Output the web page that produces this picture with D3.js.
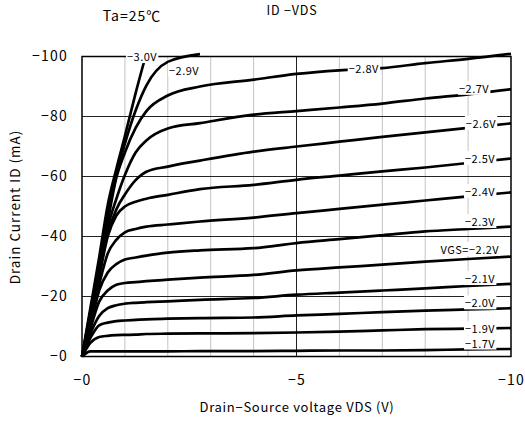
<!DOCTYPE html>
<html>
<head>
<meta charset="utf-8">
<script src="https://cdn.jsdelivr.net/npm/d3@7"></script>
<style>
  body { margin: 0; background: #fff; }
  svg text { font-family: "Noto Sans CJK JP", "Noto Sans", sans-serif; fill: #000; }
  .line { fill: none; stroke: #000; stroke-width: 2.7; stroke-linejoin: round; }
</style>
</head>
<body>
<div class="Line_chart"></div>
<script>
/* global d3 */

// VDS sample points (V), shared by every curve
var vds = [0, -0.2, -0.4, -0.6, -0.8, -1.0, -1.25, -1.5, -2.0, -2.75, -4, -5, -6, -7, -8, -9, -10];

// ID (mA), one array per VGS
var id17 = [0, -1.7, -1.7, -1.7, -1.7, -1.7, -1.7, -1.7, -1.7, -1.8, -1.8, -1.9, -2.0, -2.0, -2.1, -2.4, -2.5];
var id19 = [0, -4.6, -6.5, -6.9, -7.1, -7.2, -7.3, -7.5, -7.6, -7.7, -7.8, -8.0, -8.3, -8.7, -9.1, -9.3, -9.5];
var id20 = [0, -6.3, -10.4, -11.3, -11.8, -12.0, -12.2, -12.4, -12.6, -12.8, -13.0, -13.7, -14.2, -14.8, -15.3, -15.7, -16.1];
var id21 = [0, -7.8, -13.5, -16.1, -17.1, -17.6, -17.9, -18.1, -18.4, -18.9, -19.5, -20.6, -21.3, -22.0, -22.7, -23.5, -24.2];
var id22 = [0, -9.5, -18.3, -22.0, -23.9, -24.5, -24.8, -25.1, -25.6, -26.3, -27.2, -28.7, -29.7, -30.6, -31.6, -32.5, -33.3];
var id23 = [0, -10.5, -22.0, -28.0, -30.8, -32.3, -33.0, -33.6, -34.6, -35.4, -36.1, -37.8, -39.1, -40.4, -41.7, -42.5, -43.3];
var id24 = [0, -11.5, -24.0, -34.3, -38.9, -41.4, -42.5, -43.3, -44.0, -45.0, -46.3, -47.8, -49.2, -50.6, -52.0, -53.4, -54.7];
var id25 = [0, -12.5, -26.5, -40.0, -47.0, -50.0, -51.6, -52.6, -53.9, -55.8, -57.2, -58.9, -60.3, -61.7, -63.0, -64.5, -66.0];
var id26 = [0, -13.0, -27.5, -41.0, -49.0, -54.0, -58.8, -61.6, -63.3, -65.3, -68.3, -70.0, -71.6, -73.2, -74.7, -76.2, -77.7];
var id27 = [0, -13.5, -28.5, -43.0, -52.5, -60.5, -68.0, -72.0, -76.0, -77.8, -80.6, -81.8, -83.0, -84.3, -86.0, -87.4, -89.1];
var id28 = [0, -14.5, -29.5, -45.0, -59.5, -68.0, -76.2, -81.8, -87.0, -90.0, -92.3, -94.2, -95.4, -96.1, -97.8, -99.2, -100.9];
var id29 = [0, -15.5, -31.0, -47.5, -60.5, -71.0, -82.0, -90.3, -98.2, -100.8, null, null, null, null, null, null, null];
var id30 = [0, -16.5, -33.0, -50.5, -62.5, -73.5, -87.8, -101.0, null, null, null, null, null, null, null, null, null];

var curveValues = [id17, id19, id20, id21, id22, id23, id24, id25, id26, id27, id28, id29, id30];
var curveNames = ["\u22121.7V", "\u22121.9V", "\u22122.0V", "\u22122.1V", "VGS=\u22122.2V", "\u22122.3V", "\u22122.4V",
                  "\u22122.5V", "\u22122.6V", "\u22122.7V", "\u22122.8V", "\u22122.9V", "\u22123.0V"];

// tick values
var xTicks = [0, -5, -10];
var yTicks = [0, -20, -40, -60, -80, -100];
var xMinor = [-1, -2, -3, -4, -6, -7, -8, -9];

// where each curve's name sits, in axis units (VDS, ID)
var labelAt = [[-9.28, -4.3], [-9.28, -9.2], [-9.28, -17.7], [-9.28, -25.8], [-9.04, -35.5], [-9.28, -44.8],
               [-9.28, -54.8], [-9.28, -65.8], [-9.3, -77.5], [-9.14, -89.2], [-6.57, -95.8], [-2.38, -95.2], [-1.4, -99.8]];

var W = 525, H = 421;
var pLeft = 82, pRight = 511, pTop = 56.5, pBottom = 356.5;

var svg = d3.select("body").selectAll(".Line_chart").append("svg")
    .attr("width", W)
    .attr("height", H);

// set the ranges
var x = d3.scaleLinear().domain([0, -10]).range([pLeft, pRight]);
var y = d3.scaleLinear().domain([0, -100]).range([pBottom, pTop]);

// light vertical grid every volt
svg.append("g").selectAll("line").data(xMinor).enter().append("line")
    .attr("x1", function(d) { return x(d); })
    .attr("x2", function(d) { return x(d); })
    .attr("y1", pTop).attr("y2", pBottom)
    .attr("stroke", "#c4c4c4").attr("stroke-width", 1);

// dark grid on the major ticks
svg.append("g").selectAll("line").data(yTicks.slice(1, -1)).enter().append("line")
    .attr("x1", pLeft).attr("x2", pRight)
    .attr("y1", function(d) { return y(d); })
    .attr("y2", function(d) { return y(d); })
    .attr("stroke", "#222").attr("stroke-width", 1);
svg.append("line")
    .attr("x1", x(-5)).attr("x2", x(-5))
    .attr("y1", pTop).attr("y2", pBottom)
    .attr("stroke", "#222").attr("stroke-width", 1);

// frame
svg.append("rect")
    .attr("x", pLeft).attr("y", pTop)
    .attr("width", pRight - pLeft).attr("height", pBottom - pTop)
    .attr("fill", "none").attr("stroke", "#000").attr("stroke-width", 1.5);

// define the line
var valueline = d3.line()
    .defined(function(d) { return d[1] != null; })
    .x(function(d) { return x(d[0]); })
    .y(function(d) { return y(d[1]); })
    .curve(d3.curveMonotoneX);

curveValues.forEach(function(vals) {
  svg.append("path")
      .data([vds.map(function(v, i) { return [v, vals[i]]; })])
      .attr("class", "line")
      .attr("d", valueline);
});

// curve names on a white patch
curveNames.forEach(function(name, i) {
  var g = svg.append("g");
  var t = g.append("text")
      .attr("x", x(labelAt[i][0]))
      .attr("y", y(labelAt[i][1]))
      .attr("dy", "0.36em")
      .attr("text-anchor", "middle")
      .style("font-size", "11px")
      .style("letter-spacing", "0.5px")
      .text(name);
  var b = t.node().getBBox();
  g.insert("rect", "text")
      .attr("x", b.x - 1).attr("y", b.y + 1)
      .attr("width", b.width + 2).attr("height", b.height - 2)
      .attr("fill", "#fff");
});

var fmt = function(d) { return "\u2212" + Math.abs(d); };

// Add the X Axis
var xAxis = svg.append("g")
    .attr("transform", "translate(0," + pBottom + ")")
    .call(d3.axisBottom(x).tickValues(xTicks).tickSize(0).tickPadding(19).tickFormat(fmt));
// Add the Y Axis
var yAxis = svg.append("g")
    .attr("transform", "translate(" + pLeft + ",0)")
    .call(d3.axisLeft(y).tickValues(yTicks).tickSize(0).tickPadding(14).tickFormat(fmt));
[xAxis, yAxis].forEach(function(a) {
  a.select(".domain").remove();
  a.selectAll("text").style("font-size", "14px").style("letter-spacing", "1.2px").style("font-family", null);
});

// titles
svg.append("text").attr("x", 292).attr("y", 15).attr("text-anchor", "middle")
    .style("font-size", "12.5px").style("letter-spacing", "0.8px").text("ID \u2212VDS");
svg.append("text").attr("x", 132).attr("y", 21).attr("text-anchor", "middle")
    .style("font-size", "14px").style("letter-spacing", "1px").text("Ta=25\u2103");
svg.append("text").attr("x", 297).attr("y", 412).attr("text-anchor", "middle")
    .style("font-size", "13px").style("letter-spacing", "0.7px").text("Drain\u2212Source voltage VDS (V)");
svg.append("text").attr("transform", "translate(20,207) rotate(-90)").attr("text-anchor", "middle")
    .style("font-size", "13.5px").style("letter-spacing", "1px").text("Drain Current ID (mA)");
</script>
</body>
</html>
